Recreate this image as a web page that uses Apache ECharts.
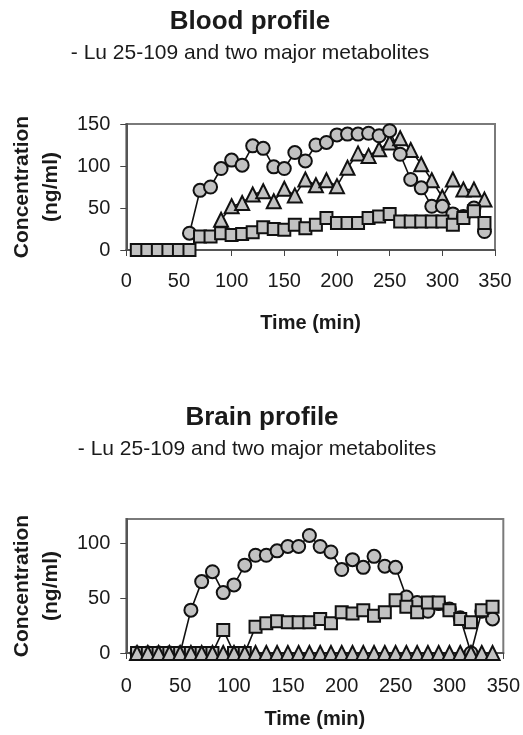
<!DOCTYPE html>
<html>
<head>
<meta charset="utf-8">
<script src="https://cdn.jsdelivr.net/npm/echarts@6/dist/echarts.min.js"></script>
<style>
  html, body { margin: 0; padding: 0; background: #fff; }
  #chart { width: 523px; height: 735px; }
</style>
</head>
<body>
<div id="chart"></div>
<script>
const times = [10, 20, 30, 40, 50, 60, 70, 80, 90, 100, 110, 120, 130, 140, 150, 160, 170,
  180, 190, 200, 210, 220, 230, 240, 250, 260, 270, 280, 290, 300, 310, 320, 330, 340];

// blood profile (ng/ml)
const bloodCircle = [null, null, null, null, null, 20, 71, 75, 97, 107, 101, 124, 121, 99, 97, 116, 106,
  125, 128, 137, 138, 138, 139, 136, 142, 114, 84, 74, 52, 52, 43, 40, 50, 22];
const bloodTriangle = [null, null, null, null, null, null, null, null, 36, 52, 56, 66, 70, 58, 73, 65, 84,
  77, 83, 76, 98, 115, 112, 120, 128, 133, 119, 102, 83, 63, 84, 72, 72, 60];
const bloodSquare = [0, 0, 0, 0, 0, 0, 16, 16, 20, 18, 19, 21, 27, 25, 24, 30, 26,
  30, 38, 32, 32, 32, 38, 40, 43, 34, 34, 34, 34, 34, 30, 38, 46, 32];

// brain profile (ng/ml)
const brainCircle = [0, 0, 0, 0, 0, 39, 65, 74, 55, 62, 80, 89, 89, 93, 97, 97, 107,
  97, 92, 76, 85, 78, 88, 79, 78, 51, 46, 38, 45, 40, 32, 0, 38, 31];
const brainSquare = [0, 0, 0, 0, 0, 0, 0, 0, 21, 0, 0, 24, 27, 29, 28, 28, 28,
  31, 27, 37, 36, 39, 34, 37, 48, 42, 37, 46, 46, 39, 31, 28, 39, 42];
const brainTriangle = [0, 0, 0, 0, 0, 0, 0, 0, 0, 0, 0, 0, 0, 0, 0, 0, 0,
  0, 0, 0, 0, 0, 0, 0, 0, 0, 0, 0, 0, 0, 0, 0, 0, 0];

const xTicks = [0, 50, 100, 150, 200, 250, 300, 350];
const bloodYTicks = [0, 50, 100, 150];
const brainYTicks = [0, 50, 100];

const FONT = "'Liberation Sans', Arial, sans-serif";
const INK = "#1a1a1a";
const FILL = "#c2c2c2";

function pairs(ys) {
  return times.map((t, i) => [t, ys[i]]);
}

function markerSeries(name, symbol, size, ys, axisIndex) {
  return {
    name,
    type: "line",
    xAxisIndex: axisIndex,
    yAxisIndex: axisIndex,
    data: pairs(ys),
    symbol,
    symbolSize: size,
    showAllSymbol: true,
    clip: false,
    connectNulls: false,
    lineStyle: { color: "#111", width: 1.6 },
    itemStyle: { color: FILL, borderColor: "#111", borderWidth: 2 },
  };
}

function xAxisFor(gridIndex, labelMargin, nameGap) {
  return {
    type: "value",
    gridIndex,
    min: 0,
    max: 350,
    interval: 50,
    name: "Time (min)",
    nameLocation: "middle",
    nameGap,
    nameTextStyle: { fontFamily: FONT, fontSize: 20, fontWeight: "bold", color: INK },
    axisLine: { show: true, onZero: false, lineStyle: { color: "#555", width: 2 } },
    axisTick: { show: true, length: 6, lineStyle: { color: "#444", width: 1 }, customValues: xTicks },
    axisLabel: { fontFamily: FONT, fontSize: 20, color: INK, margin: labelMargin, customValues: xTicks },
    splitLine: { show: false },
  };
}

function yAxisFor(gridIndex, max, ticks) {
  return {
    type: "value",
    gridIndex,
    min: 0,
    max,
    interval: 50,
    name: "Concentration\n(ng/ml)",
    nameLocation: "middle",
    nameGap: 58,
    nameTextStyle: { fontFamily: FONT, fontSize: 21, fontWeight: "bold", color: INK, lineHeight: 29 },
    axisLine: { show: true, lineStyle: { color: "#555", width: 2 } },
    axisTick: { show: true, length: 6, lineStyle: { color: "#444", width: 1 }, customValues: ticks },
    axisLabel: { fontFamily: FONT, fontSize: 20, color: INK, margin: 16, customValues: ticks },
    splitLine: { show: false },
  };
}

function titleAt(text, x, top, size, bold) {
  return {
    text,
    left: x,
    top,
    textAlign: "center",
    padding: 0,
    textStyle: { fontFamily: FONT, fontSize: size, fontWeight: bold ? "bold" : "normal", color: INK },
  };
}

const chart = echarts.init(document.getElementById("chart"));

chart.setOption({
  animation: false,
  backgroundColor: "#fff",
  title: [
    titleAt("Blood profile", 250, 8.5, 26, true),
    titleAt("- Lu 25-109 and two major metabolites", 250, 43, 21, false),
    titleAt("Brain profile", 262, 405, 26, true),
    titleAt("- Lu 25-109 and two major metabolites", 257, 439, 21, false),
  ],
  grid: [
    { left: 124, top: 124, width: 371, height: 126, show: true, borderColor: "#7a7a7a", borderWidth: 2, backgroundColor: "transparent" },
    { left: 123, top: 519, width: 381, height: 134, show: true, borderColor: "#7a7a7a", borderWidth: 2, backgroundColor: "transparent" },
  ],
  xAxis: [xAxisFor(0, 21, 63), xAxisFor(1, 23, 56)],
  yAxis: [yAxisFor(0, 150, bloodYTicks), yAxisFor(1, 122, brainYTicks)],
  series: [
    markerSeries("Blood metabolite A", "triangle", 14, bloodTriangle, 0),
    markerSeries("Blood Lu 25-109", "circle", 13, bloodCircle, 0),
    markerSeries("Blood metabolite B", "rect", 12, bloodSquare, 0),
    markerSeries("Brain Lu 25-109", "circle", 13, brainCircle, 1),
    markerSeries("Brain metabolite B", "rect", 12, brainSquare, 1),
    markerSeries("Brain metabolite A", "triangle", 14, brainTriangle, 1),
  ],
});
</script>
</body>
</html>
